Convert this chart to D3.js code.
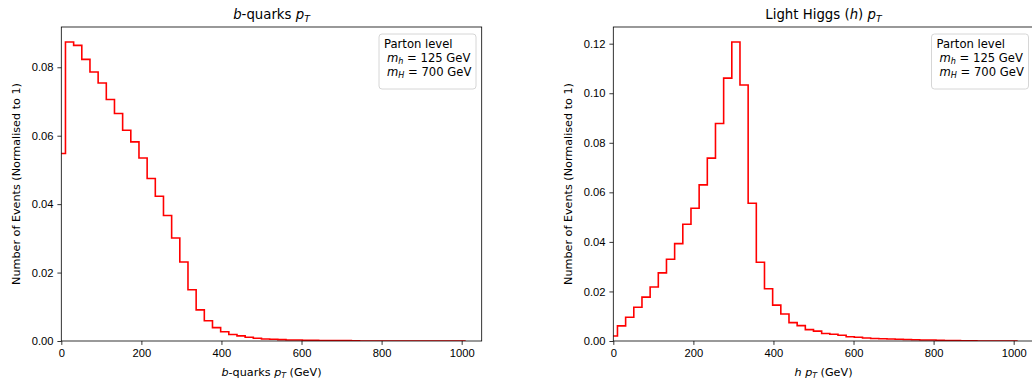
<!DOCTYPE html>
<html>
<head>
<meta charset="utf-8">
<script src="https://cdn.jsdelivr.net/npm/d3@7"></script>
<style>
  body { margin: 0; background: #fff; }
  svg { font-family: "DejaVu Sans", sans-serif; display: block; }
  .axis path, .axis line { stroke: #000; stroke-width: 0.8; }
  .axis text { font-size: 11.2px; fill: #000; }
</style>
</head>
<body>
<div id="chart"></div>
<script>
// histogram binning: 50 bins from -10 to 1010 GeV
const binStart = -10;
const binWidth = 20.4;

// b-quarks pT, normalised to 1
const bQuarkPt = [
  0.0548, 0.0874, 0.0864, 0.0823, 0.0786, 0.0754, 0.0706, 0.0665, 0.0616, 0.0582,
  0.0535, 0.0475, 0.0423, 0.0367, 0.0301, 0.0231, 0.0150, 0.0091, 0.0059, 0.0039,
  0.0027, 0.0019, 0.0015, 0.0011, 0.0008, 0.0006, 0.0005, 0.0004, 0.0003, 0.0003,
  0.0002, 0.0002, 0.0001, 0.0001, 0.0001, 0.0001, 0.00005, 0, 0, 0,
  0, 0, 0, 0, 0, 0, 0, 0, 0, 0
];

// light Higgs pT, normalised to 1
const higgsPt = [
  0.0020, 0.0061, 0.0096, 0.0136, 0.0177, 0.0218, 0.0275, 0.0330, 0.0393, 0.0471,
  0.0536, 0.0630, 0.0738, 0.0878, 0.1061, 0.1207, 0.1033, 0.0556, 0.0318, 0.0211,
  0.0145, 0.0109, 0.0074, 0.0062, 0.0046, 0.0040, 0.0030, 0.0027, 0.0023, 0.0017,
  0.0015, 0.0012, 0.0010, 0.0009, 0.0008, 0.0007, 0.0006, 0.0005, 0.0004, 0.0004,
  0.0003, 0.0002, 0.0002, 0.0001, 0.0001, 0, 0, 0, 0, 0
];

const xTicks = [0, 200, 400, 600, 800, 1000];
const yTicksB = [0, 0.02, 0.04, 0.06, 0.08];
const yTicksH = [0, 0.02, 0.04, 0.06, 0.08, 0.10, 0.12];
const legendLines = ["Parton level", ["h", "125"], ["H", "700"]];

const svg = d3.select("#chart").append("svg")
    .attr("width", 1032)
    .attr("height", 381);

function drawPanel(opts) {
  const left = opts.left, width = 420.4, top = 27, bottom = 341;
  const values = opts.values;
  const edges = d3.range(values.length + 1).map(i => binStart + i * binWidth);

  const x = d3.scaleLinear().domain([0, 1050]).range([left, left + width]);
  const y = d3.scaleLinear().domain([0, d3.max(values) * 1.05]).range([bottom, top]);

  const clipId = "clip" + opts.id;
  svg.append("clipPath").attr("id", clipId)
    .append("rect")
      .attr("x", left).attr("y", top)
      .attr("width", width).attr("height", bottom - top);

  // step outline like histtype='step'
  const pts = [[edges[0], 0]];
  values.forEach((v, i) => { pts.push([edges[i], v]); pts.push([edges[i + 1], v]); });
  pts.push([edges[edges.length - 1], 0]);

  const line = d3.line().x(d => x(d[0])).y(d => y(d[1]));
  svg.append("path")
      .attr("clip-path", "url(#" + clipId + ")")
      .attr("d", line(pts))
      .attr("fill", "none")
      .attr("stroke", "#ff0000")
      .attr("stroke-width", 1.6)
      .attr("stroke-linejoin", "miter");

  // frame
  svg.append("rect")
      .attr("x", left).attr("y", top)
      .attr("width", width).attr("height", bottom - top)
      .attr("fill", "none").attr("stroke", "#000").attr("stroke-width", 0.8);

  svg.append("g")
      .attr("class", "axis")
      .attr("transform", "translate(0," + bottom + ")")
      .call(d3.axisBottom(x).tickValues(xTicks).tickFormat(d3.format("d")).tickSize(3.9).tickPadding(3.9))
      .call(g => g.select(".domain").remove());

  svg.append("g")
      .attr("class", "axis")
      .attr("transform", "translate(" + left + ",0)")
      .call(d3.axisLeft(y).tickValues(opts.yTicks).tickFormat(d3.format(".2f")).tickSize(3.9).tickPadding(3.9))
      .call(g => g.select(".domain").remove());

  // title
  const title = svg.append("text")
      .attr("x", left + width / 2)
      .attr("y", 19)
      .attr("text-anchor", "middle")
      .attr("font-size", "13.3px");
  opts.title(title, 13.3);

  // x label
  const xl = svg.append("text")
      .attr("x", left + width / 2)
      .attr("y", 376)
      .attr("text-anchor", "middle")
      .attr("font-size", "11.2px");
  opts.xLabel(xl, 11.2);

  // y label
  svg.append("text")
      .attr("transform", "translate(" + (left - 41.5) + "," + ((top + bottom) / 2) + ") rotate(-90)")
      .attr("text-anchor", "middle")
      .attr("font-size", "11.2px")
      .text("Number of Events (Normalised to 1)");

  // legend
  const lg = svg.append("g").attr("transform", "translate(" + opts.legendX + ",34)");
  lg.append("rect")
      .attr("width", 97).attr("height", 55)
      .attr("rx", 3)
      .attr("fill", "#fff").attr("fill-opacity", 0.8)
      .attr("stroke", "#cccccc").attr("stroke-width", 0.8);
  legendLines.forEach((l, i) => {
    const t = lg.append("text")
        .attr("x", 5)
        .attr("y", 14 + i * 13.8)
        .attr("font-size", "11.6px");
    if (typeof l === "string") {
      t.text(l);
    } else {
      t.append("tspan").attr("dx", 3).attr("font-style", "italic").text("m");
      t.append("tspan").attr("font-style", "italic").attr("font-size", "8.1px")
          .attr("dy", 2.3).text(l[0]);
      t.append("tspan").attr("dy", -2.3).text(" = " + l[1] + " GeV");
    }
  });
}

function ptLabel(sel, fs, before, after) {
  before(sel);
  sel.append("tspan").attr("font-style", "italic").text("p");
  sel.append("tspan").attr("font-style", "italic").attr("font-size", (fs * 0.7) + "px")
      .attr("dy", fs * 0.2).text("T");
  sel.append("tspan").attr("dy", -fs * 0.2).text(after);
}

drawPanel({
  id: "b", left: 61.3, values: bQuarkPt, yTicks: yTicksB, legendX: 379,
  title: (t, fs) => ptLabel(t, fs, s => {
    s.append("tspan").attr("font-style", "italic").text("b");
    s.append("tspan").text("-quarks ");
  }, ""),
  xLabel: (t, fs) => ptLabel(t, fs, s => {
    s.append("tspan").attr("font-style", "italic").text("b");
    s.append("tspan").text("-quarks ");
  }, " (GeV)")
});

drawPanel({
  id: "h", left: 613.3, values: higgsPt, yTicks: yTicksH, legendX: 931.5,
  title: (t, fs) => ptLabel(t, fs, s => {
    s.append("tspan").text("Light Higgs (");
    s.append("tspan").attr("font-style", "italic").text("h");
    s.append("tspan").text(") ");
  }, ""),
  xLabel: (t, fs) => ptLabel(t, fs, s => {
    s.append("tspan").attr("font-style", "italic").text("h");
    s.append("tspan").text(" ");
  }, " (GeV)")
});
</script>
</body>
</html>
